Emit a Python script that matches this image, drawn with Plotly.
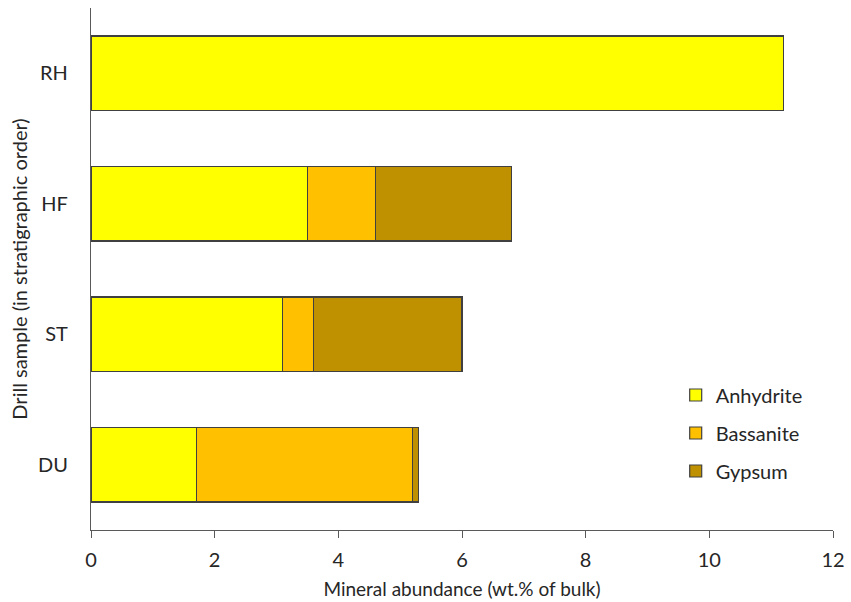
import plotly.graph_objects as go

samples = ["RH", "HF", "ST", "DU"]
anhydrite = [11.2, 3.5, 3.1, 1.7]
bassanite = [0.0, 1.1, 0.5, 3.5]
gypsum = [0.0, 2.2, 2.4, 0.1]
x_ticks = [0, 2, 4, 6, 8, 10, 12]

series = [
    ("Anhydrite", anhydrite, "#FFFF00"),
    ("Bassanite", bassanite, "#FFC000"),
    ("Gypsum", gypsum, "#BF9000"),
]

fig = go.Figure()
for name, vals, color in series:
    fig.add_trace(go.Bar(
        y=samples, x=vals, name=name, orientation="h",
        legendgroup=name,
        marker=dict(color=color, line=dict(color="#404040", width=1.2)),
        width=0.57,
    ))

font = "Lato, 'Open Sans', sans-serif"
fs = 19
fig.update_layout(
    barmode="stack",
    width=851, height=602,
    margin=dict(l=91, r=18, t=8, b=72, autoexpand=False),
    plot_bgcolor="white", paper_bgcolor="white",
    font=dict(family=font, size=fs, color="#262626"),
    showlegend=True,
    legend=dict(
        x=0.788, y=0.296, xanchor="left", yanchor="top",
        font=dict(size=20, color="#262626"),
        traceorder="grouped", itemwidth=30,
        bgcolor="rgba(0,0,0,0)",
        tracegroupgap=9,
    ),
)
fig.update_xaxes(
    range=[0, 12], tickvals=x_ticks, ticktext=[str(v) for v in x_ticks],
    showline=True, linecolor="#595959", linewidth=1.2,
    ticks="outside", ticklen=7, tickcolor="#595959",
    showgrid=False, zeroline=False, automargin=False,
    ticklabelstandoff=5,
    title=dict(text="Mineral abundance (wt.% of bulk)", standoff=12, font=dict(size=fs)),
    tickfont=dict(size=20),
)
fig.update_yaxes(
    categoryorder="array", categoryarray=samples[::-1],
    showline=True, linecolor="#595959", linewidth=1.2,
    ticks="", showgrid=False, zeroline=False, automargin=False,
    title=dict(text="Drill sample (in stratigraphic order)", standoff=4, font=dict(size=20)),
    tickfont=dict(size=20),
    ticklabelstandoff=18,
)
fig.write_html(
    "out.html",
    config={"displayModeBar": False},
    post_script="document.body.style.margin='0';document.body.style.overflow='hidden';",
)
